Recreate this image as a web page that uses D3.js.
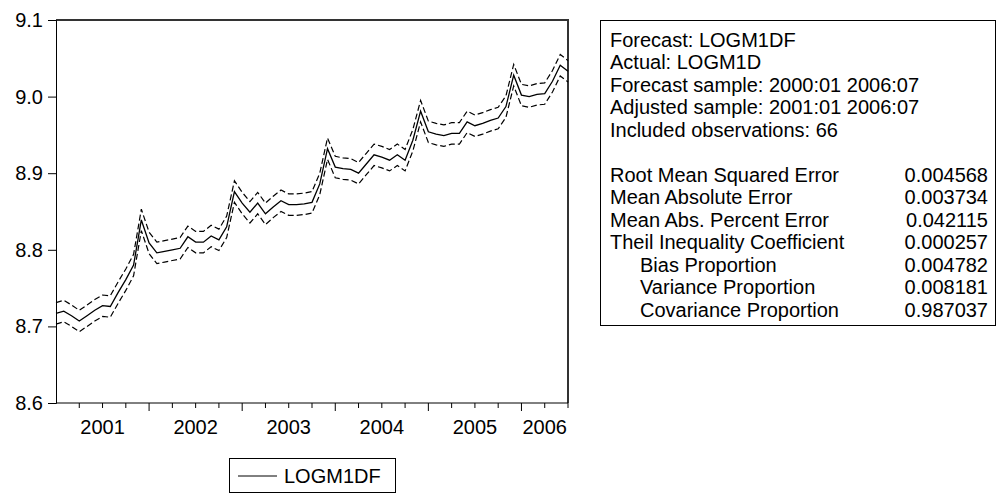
<!DOCTYPE html>
<html lang="en">
<head>
<meta charset="UTF-8">
<title>Forecast LOGM1DF</title>
<script src="https://cdn.jsdelivr.net/npm/d3@7"></script>
<style>
  body { margin: 0; background: #fff; overflow: hidden; }
  text { font-family: Arial, "Liberation Sans", sans-serif; fill: #000; }
</style>
</head>
<body>
<script>
// monthly forecast 2001:01 .. 2006:07
const forecast = [
  8.717, 8.720, 8.714, 8.707, 8.714, 8.721, 8.727, 8.726, 8.744, 8.761, 8.780, 8.839,
  8.809, 8.796, 8.798, 8.800, 8.802, 8.817, 8.810, 8.810, 8.818, 8.813, 8.830, 8.876,
  8.861, 8.849, 8.861, 8.847, 8.856, 8.864, 8.859, 8.859, 8.860, 8.862, 8.886, 8.932,
  8.908, 8.906, 8.905, 8.900, 8.912, 8.924, 8.921, 8.917, 8.924, 8.917, 8.943, 8.981,
  8.954, 8.951, 8.949, 8.952, 8.952, 8.967, 8.962, 8.965, 8.969, 8.972, 8.987, 9.028,
  9.002, 9.000, 9.003, 9.004, 9.020, 9.041, 9.033
];
const twoSE = 0.014;            // +/- 2 S.E. band
const yTicks = [8.6, 8.7, 8.8, 8.9, 9.0, 9.1];
const yearLabels = ["2001", "2002", "2003", "2004", "2005", "2006"];
const statsHead = [
  "Forecast: LOGM1DF",
  "Actual: LOGM1D",
  "Forecast sample: 2000:01 2006:07",
  "Adjusted sample: 2001:01 2006:07",
  "Included observations: 66"
];
const statsNames = [
  "Root Mean Squared Error", "Mean Absolute Error", "Mean Abs. Percent Error",
  "Theil Inequality Coefficient", "Bias Proportion", "Variance Proportion", "Covariance Proportion"
];
const statsValues = ["0.004568", "0.003734", "0.042115", "0.000257", "0.004782", "0.008181", "0.987037"];
const statsIndent = [0, 0, 0, 0, 1, 1, 1];

const W = 1000, H = 494;
const svg = d3.select("body").append("svg").attr("width", W).attr("height", H);

const pl = 56, pr = 568, pt = 20, pb = 403;
const x = d3.scaleLinear().domain([0, forecast.length - 1]).range([pl, pr]);
const y = d3.scaleLinear().domain([8.6, 9.1]).range([pb, pt]);

// frame: top and right edges
svg.append("path")
  .attr("d", `M${pl},${pt}H${pr}V${pb}`)
  .attr("fill", "none").attr("stroke", "#333").attr("stroke-width", 2);

// y axis
const yAxis = svg.append("g").attr("transform", `translate(${pl},0)`)
  .call(d3.axisLeft(y).tickValues(yTicks).tickFormat(d3.format(".1f")).tickSize(8).tickPadding(5));
yAxis.select(".domain").attr("stroke", "#000");
yAxis.selectAll("text").style("font-size", "20px").style("font-family", "Arial, 'Liberation Sans', sans-serif");

// x axis: major ticks at years, minor at quarters
const qTicks = d3.range(0, forecast.length, 3).filter(i => i % 12 !== 0);
const majorTicks = d3.range(12, forecast.length, 12);
const xg = svg.append("g").attr("transform", `translate(0,${pb})`);
xg.append("line").attr("x1", pl).attr("x2", pr).attr("stroke", "#000");
xg.selectAll(".minor").data(qTicks).join("line")
  .attr("x1", d => x(d)).attr("x2", d => x(d)).attr("y2", 5).attr("stroke", "#000");
xg.selectAll(".major").data(majorTicks).join("line")
  .attr("x1", d => x(d)).attr("x2", d => x(d)).attr("y2", 8).attr("stroke", "#000");
xg.selectAll(".yl").data(yearLabels).join("text")
  .attr("x", (d, i) => x(Math.min(i * 12 + 6, (i * 12 + forecast.length - 1) / 2)))
  .attr("y", 31).attr("text-anchor", "middle").style("font-size", "20px").text(d => d);

// lines
const line = d3.line().x((d, i) => x(i)).y(d => y(d));
svg.append("path").datum(forecast.map(v => v + twoSE))
  .attr("d", line).attr("fill", "none").attr("stroke", "#000").attr("stroke-width", 1.2)
  .attr("stroke-dasharray", "6,3");
svg.append("path").datum(forecast.map(v => v - twoSE))
  .attr("d", line).attr("fill", "none").attr("stroke", "#000").attr("stroke-width", 1.2)
  .attr("stroke-dasharray", "6,3");
svg.append("path").datum(forecast)
  .attr("d", line).attr("fill", "none").attr("stroke", "#000").attr("stroke-width", 1.3);

// legend
const lg = svg.append("g");
lg.append("rect").attr("x", 229.5).attr("y", 458.5).attr("width", 166).attr("height", 34)
  .attr("fill", "none").attr("stroke", "#000");
lg.append("line").attr("x1", 238).attr("x2", 277).attr("y1", 476).attr("y2", 476).attr("stroke", "#000");
lg.append("text").attr("x", 284).attr("y", 483).style("font-size", "20px").text("LOGM1DF");

// stats box
const bx = 600.5, by = 20.5, bw = 395, lh = 22.5;
const sb = svg.append("g");
sb.append("rect").attr("x", bx).attr("y", by).attr("width", bw).attr("height", 305)
  .attr("fill", "none").attr("stroke", "#000");
sb.selectAll(".h").data(statsHead).join("text")
  .attr("x", 610).attr("y", (d, i) => by + 26 + i * lh).style("font-size", "20px").text(d => d);
sb.selectAll(".n").data(statsNames).join("text")
  .attr("x", (d, i) => 610 + statsIndent[i] * 30)
  .attr("y", (d, i) => by + 26 + (i + statsHead.length + 1) * lh).style("font-size", "20px").text(d => d);
sb.selectAll(".v").data(statsValues).join("text")
  .attr("x", 988).attr("text-anchor", "end")
  .attr("y", (d, i) => by + 26 + (i + statsHead.length + 1) * lh).style("font-size", "20px").text(d => d);
</script>
</body>
</html>
